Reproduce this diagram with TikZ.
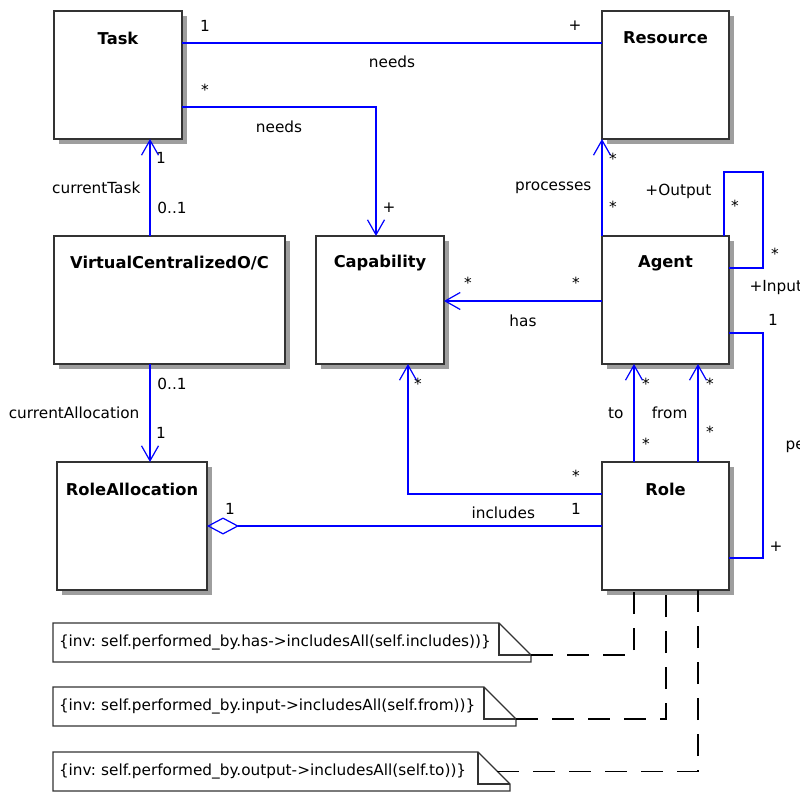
\documentclass[tikz,border=0pt]{standalone}
\usepackage{fontspec}
\setmainfont{DejaVu Sans}
\usepackage{xcolor}
\usepackage{tikz}
\usetikzlibrary{arrows.meta, shadows, backgrounds, calc}
\definecolor{umlblue}{RGB}{0,0,255}
\newcommand{\labelsize}{\fontsize{15.3}{18}\selectfont}
\newcommand{\titlesize}{\fontsize{16.3}{19}\selectfont\bfseries}
\newcommand{\notesize}{\fontsize{15.3}{18}\selectfont\frenchspacing}
\tikzset{
    classbox/.style={rectangle, draw=black!80, line width=1.4pt, fill=white, anchor=north west, inner sep=0pt, outer sep=0pt, minimum width=128pt, minimum height=128pt, drop shadow={shadow xshift=5pt, shadow yshift=-5pt, fill=black!38, opacity=1}},
    classname/.style={label={[anchor=center, yshift=-27pt, font=\titlesize]north:#1}},
    notebox/.style={rectangle, anchor=north west, inner xsep=6pt, inner ysep=0pt, outer sep=0pt, minimum height=39pt, align=left, font=\notesize},
    assoc/.style={draw=umlblue, line width=1.2pt},
    navarrow/.style={assoc, arrows={-Straight Barb[length=15pt, width=17pt]}},
    aggr/.style={assoc, arrows={Diamond[open, length=32pt, width=17pt]-}},
    mult/.style={font=\labelsize, inner sep=1pt},
    notelink/.style={draw=black, line width=1.2pt, dash pattern=on 22pt off 14pt}
}
\begin{document}
\begin{tikzpicture}[x=1pt, y=-1pt]
    \useasboundingbox (0,0) rectangle (800,794);
    \fill[white] (0,0) rectangle (800,794);

    % classes
    \node (task) [classbox, classname=Task] at (54,11) {};
    \node (resource) [classbox, classname=Resource, minimum width=127pt] at (602,11) {};
    \node (vco) [classbox, classname=VirtualCentralizedO/C, minimum width=231pt] at (54,236) {};
    \node (capability) [classbox, classname=Capability] at (316,236) {};
    \node (agent) [classbox, classname=Agent, minimum width=127pt] at (602,236) {};
    \node (roleall) [classbox, classname=RoleAllocation, minimum width=150pt] at (57,462) {};
    \node (role) [classbox, classname=Role, minimum width=127pt] at (602,462) {};

    % associations
    \draw[assoc] ([yshift=-32pt]task.north east) -- ([yshift=-32pt]resource.north west)
        node[mult, pos=0, xshift=23pt, yshift=17pt] {1}
        node[mult, pos=1, xshift=-27pt, yshift=17pt] {+}
        node[mult, midway, yshift=-19pt] {needs};
    \draw[navarrow] ([yshift=-96pt]task.north east) -| ([xshift=60pt]capability.north west)
        node[mult, pos=0, xshift=23pt, yshift=17pt] {*}
        node[mult, pos=0.25, yshift=-20pt] {needs}
        node[mult, pos=1, xshift=13pt, yshift=28pt] {+};
    \draw[navarrow] ([xshift=96pt]vco.north west) -- ([xshift=96pt]task.south west)
        node[mult, pos=1, xshift=11pt, yshift=-19pt] {1}
        node[mult, midway, anchor=east, xshift=-8pt] {currentTask}
        node[mult, pos=0, xshift=22pt, yshift=28pt] {0..1};
    \draw[navarrow] ([xshift=96pt]vco.south west) -- ([xshift=96pt]vco.south west |- roleall.north)
        node[mult, pos=0, xshift=22pt, yshift=-20pt] {0..1}
        node[mult, midway, anchor=east, xshift=-9pt] {currentAllocation}
        node[mult, pos=1, xshift=11pt, yshift=29pt] {1};
    \draw[navarrow] (agent.north west) -- (resource.south west)
        node[mult, pos=1, xshift=11pt, yshift=-20pt] {*}
        node[mult, midway, anchor=east, xshift=-9pt] {processes}
        node[mult, pos=0, xshift=11pt, yshift=29pt] {*};
    \draw[assoc] ([xshift=-5pt]agent.north east) -- ++(0,-64)
        node[mult, pos=0, anchor=east, xshift=-11pt, yshift=45pt] {+Output}
        node[mult, pos=0, xshift=11pt, yshift=30pt] {*}
        -- ++(39,0) |- ([yshift=-32pt]agent.north east)
        node[mult, pos=1, xshift=46pt, yshift=14pt] {*}
        node[mult, pos=1, anchor=west, xshift=19pt, yshift=-20pt] {+Input};
    \draw[navarrow] ([yshift=-65pt]agent.north west) -- ([yshift=-65pt]capability.north east)
        node[mult, pos=0, xshift=-26pt, yshift=18pt] {*}
        node[mult, pos=1, xshift=24pt, yshift=18pt] {*}
        node[mult, midway, yshift=-20pt] {has};
    \draw[assoc] ([yshift=-97pt]agent.north east) -- ++(34,0)
        node[mult, pos=0, xshift=44pt, yshift=13pt] {1}
        |- ([yshift=-96pt]role.north east)
        node[mult, pos=0.25, anchor=west, xshift=21pt] {performed\_by}
        node[mult, pos=1, xshift=47pt, yshift=11pt] {+};
    \draw[navarrow] ([xshift=32pt]role.north west) -- ([xshift=32pt]agent.south west)
        node[mult, pos=1, xshift=12pt, yshift=-20pt] {*}
        node[mult, midway, anchor=east, xshift=-9pt] {to}
        node[mult, pos=0, xshift=12pt, yshift=18pt] {*};
    \draw[navarrow] ([xshift=96pt]role.north west) -- ([xshift=96pt]agent.south west)
        node[mult, pos=1, xshift=12pt, yshift=-20pt] {*}
        node[mult, midway, anchor=east, xshift=-9pt] {from}
        node[mult, pos=0, xshift=12pt, yshift=30pt] {*};
    \draw[navarrow] ([yshift=-32pt]role.north west) -| ([xshift=-36pt]capability.south east)
        node[mult, pos=0, xshift=-26pt, yshift=18pt] {*}
        node[mult, pos=1, xshift=10pt, yshift=-20pt] {*};
    \draw[aggr] ([yshift=-64pt]roleall.north east) -- ([yshift=-64pt]role.north west)
        node[mult, pos=0, xshift=23pt, yshift=17pt] {1}
        node[mult, pos=0.75, yshift=13pt] {includes}
        node[mult, pos=1, xshift=-26pt, yshift=17pt] {1};

    % constraints
    \node (noteA) [notebox, text width=466pt] at (53,623) {\{inv: self.performed\_by.has->includesAll(self.includes))\}};
    \node (noteB) [notebox, text width=451pt] at (53,687) {\{inv: self.performed\_by.input->includesAll(self.from))\}};
    \node (noteC) [notebox, text width=445pt] at (53,752) {\{inv: self.performed\_by.output->includesAll(self.to))\}};
    \foreach \nt in {noteA, noteB, noteC} {
        \begin{scope}[on background layer]
            \fill[black!38] ([shift={(5pt,-5pt)}]\nt.south west) -- ([shift={(5pt,-5pt)}]\nt.north west) -- ([shift={(-27pt,-5pt)}]\nt.north east) -- ([shift={(5pt,2pt)}]\nt.south east) -- ([shift={(5pt,-5pt)}]\nt.south east) -- cycle;
            \fill[white] (\nt.south west) -- (\nt.north west) -- ([xshift=-32pt]\nt.north east) -- ([yshift=7pt]\nt.south east) -- (\nt.south east) -- cycle;
        \end{scope}
        \draw[line width=1.4pt, draw=black!80] (\nt.south west) -- (\nt.north west) -- ([xshift=-32pt]\nt.north east) -- ([yshift=7pt]\nt.south east) -- (\nt.south east) -- cycle;
        \draw[line width=1.2pt, draw=black!80] ([xshift=-32pt]\nt.north east) |- ([yshift=7pt]\nt.south east);
    }
    \draw[notelink] ([yshift=7pt]noteA.south east) -| ([xshift=32pt]role.south west);
    \draw[notelink] ([yshift=7pt]noteB.south east) -| ([xshift=64pt]role.south west);
    \draw[notelink] ($([xshift=-32pt]noteC.north east)!0.6!([yshift=7pt]noteC.south east)$) -| ([xshift=96pt]role.south west);
\end{tikzpicture}
\end{document}
